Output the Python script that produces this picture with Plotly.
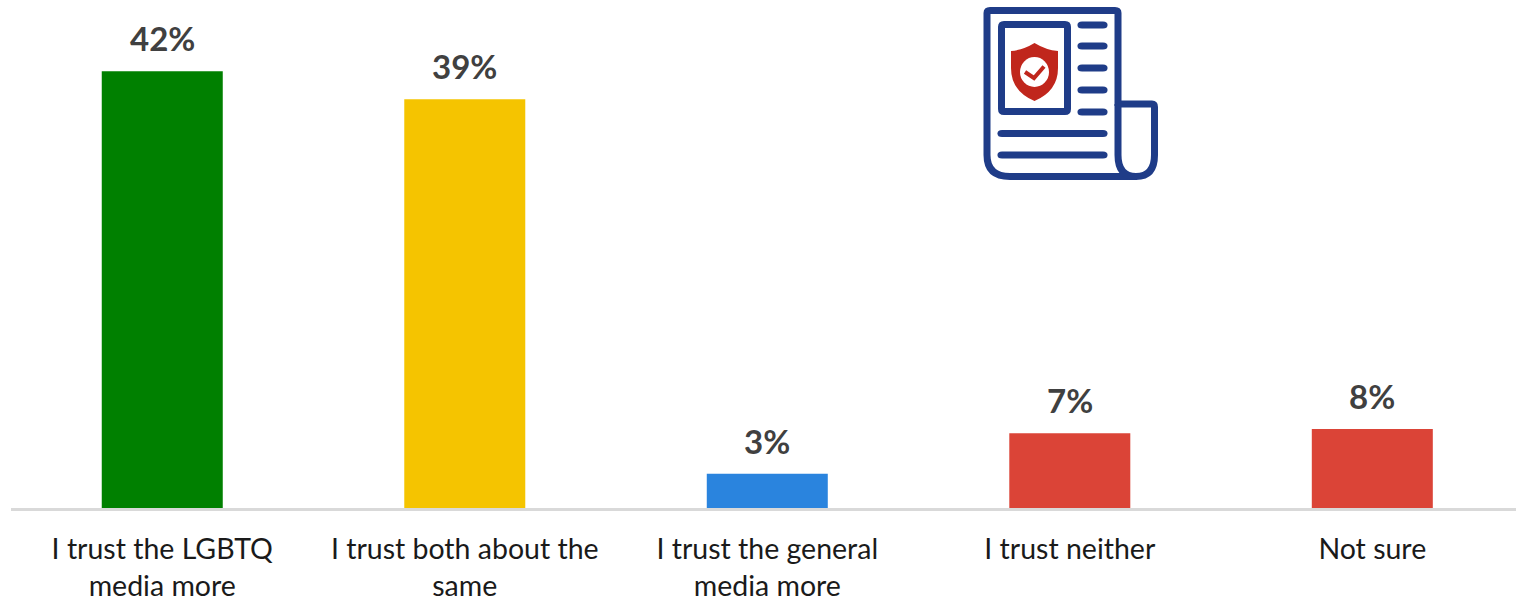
import plotly.graph_objects as go

categories = ["I trust the LGBTQ<br>media more", "I trust both about the<br>same",
              "I trust the general<br>media more", "I trust neither", "Not sure"]
values = [42.0, 39.3, 3.3, 7.2, 7.6]
labels = ["42%", "39%", "3%", "7%", "8%"]
colors = ["#008000", "#F5C400", "#2A84DE", "#DB4437", "#DB4437"]

NAVY = "#1F3C88"
RED = "#C0261C"
W = 7

fig = go.Figure(go.Bar(
    x=categories, y=values,
    marker=dict(color=colors, line=dict(width=0)), width=0.4,
    showlegend=False, hoverinfo="skip",
))

def pill(x0, x1, y, r=3.5, c=NAVY):
    d = (f"M {x0} {y-r} L {x1} {y-r} Q {x1+r*1.3} {y-r} {x1+r*1.3} {y} "
         f"Q {x1+r*1.3} {y+r} {x1} {y+r} L {x0} {y+r} "
         f"Q {x0-r*1.3} {y+r} {x0-r*1.3} {y} Q {x0-r*1.3} {y-r} {x0} {y-r} Z")
    return dict(type="path", xref="x2", yref="y2", path=d, fillcolor=c, line=dict(width=0))

def path(d, w=W, c=NAVY, fill="rgba(0,0,0,0)"):
    return dict(type="path", xref="x2", yref="y2", path=d, fillcolor=fill,
                line=dict(color=c, width=w))

shapes = [
    # page outline
    path("M 1118 106 L 1118 13 Q 1118 10.5 1115 10.5 L 990 10.5 Q 987 10.5 987 13 L 987 155 "
         "Q 987 176.5 1010 176.5 L 1137 176.5"),
    # curled foot
    path("M 1118 104 L 1152 104 Q 1154.5 104 1154.5 107 L 1154.5 155 "
         "Q 1154.5 176.5 1136 176.5 Q 1118 176.5 1118 155 L 1118 104"),
    # picture frame
    path("M 1004 24.5 L 1065 24.5 Q 1067.5 24.5 1067.5 27 L 1067.5 109 Q 1067.5 111.5 1065 111.5 "
         "L 1004 111.5 Q 1001.5 111.5 1001.5 109 L 1001.5 27 Q 1001.5 24.5 1004 24.5 Z"),
    # shield
    path("M 1034.5 43 Q 1046 50 1058 51 L 1058 68 Q 1058 91 1034.5 101 "
         "Q 1011 91 1011 68 L 1011 51 Q 1023 50 1034.5 43 Z", w=0, c=RED, fill=RED),
    dict(type="circle", xref="x2", yref="y2", x0=1020, y0=57, x1=1049, y1=87,
         fillcolor="white", line=dict(width=0)),
    path("M 1025 72 L 1034 78 L 1044 66.5", w=4, c=RED),
]
for yy in [25, 46, 68, 90, 112]:
    shapes.append(pill(1082, 1103, yy))
for yy in [133.5, 155]:
    shapes.append(pill(1002, 1103, yy))

annotations = [
    dict(x=c, y=v, xref="x", yref="y", text=t, showarrow=False, yanchor="bottom",
         yshift=11, font=dict(family="Lato", size=33, color="#404040", weight="bold"))
    for c, v, t in zip(categories, values, labels)
]

fig.update_layout(
    width=1516, height=601, autosize=False,
    margin=dict(l=11, r=0, t=0, b=93),
    paper_bgcolor="white", plot_bgcolor="white",
    bargap=0.6, shapes=shapes, annotations=annotations,
    font=dict(family="Lato", color="#1a1a1a"),
    xaxis=dict(type="category", range=[-0.5, 4.475], showgrid=False,
               showline=True, linecolor="#D9D9D9", linewidth=3,
               ticks="outside", ticklen=14, tickcolor="rgba(0,0,0,0)",
               tickfont=dict(size=28.5, color="#1a1a1a"), fixedrange=True, automargin=False),
    yaxis=dict(range=[0, 48.85], visible=False, fixedrange=True),
    xaxis2=dict(range=[11, 1516], overlaying="x", visible=False, anchor="y2"),
    yaxis2=dict(range=[508, 0], overlaying="y", visible=False, anchor="x2"),
)
fig.add_trace(go.Scatter(x=[11], y=[0], xaxis="x2", yaxis="y2", mode="markers",
                         marker=dict(opacity=0), showlegend=False, hoverinfo="skip"))
fig.write_html("out.html", config={"displayModeBar": False},
               post_script="document.body.style.margin='0';document.documentElement.style.overflow='hidden';")
